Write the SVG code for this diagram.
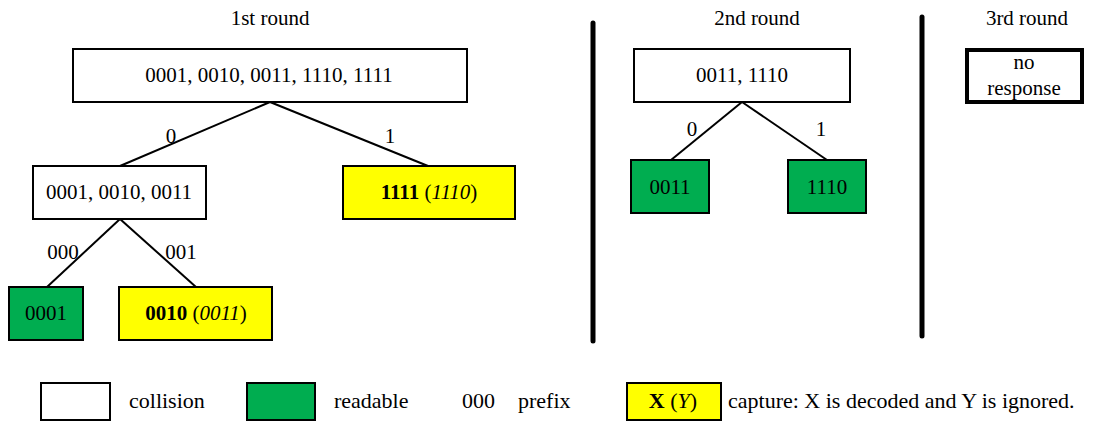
<svg xmlns="http://www.w3.org/2000/svg" width="1096" height="421" viewBox="0 0 1096 421">
<rect width="1096" height="421" fill="#fff"/>
<g id="titles">
<text x="270" y="25" text-anchor="middle" font-family="Liberation Serif" font-size="21">1st round</text>
<text x="757" y="25" text-anchor="middle" font-family="Liberation Serif" font-size="21">2nd round</text>
<text x="1027" y="25" text-anchor="middle" font-family="Liberation Serif" font-size="21">3rd round</text>
</g>
<g id="separators" stroke="#000" stroke-width="5" stroke-linecap="round">
<line x1="593" y1="23" x2="593" y2="341"/>
<line x1="922" y1="17" x2="922" y2="336"/>
</g>
<g id="connectors">
<g stroke="#000" stroke-width="2" fill="none">
<line x1="270" y1="102" x2="120" y2="166"/>
<line x1="270" y1="102" x2="428" y2="166"/>
<line x1="120" y1="219" x2="47" y2="287"/>
<line x1="120" y1="219" x2="196" y2="287"/>
<line x1="742" y1="102" x2="671" y2="160"/>
<line x1="742" y1="102" x2="827" y2="160"/>
</g>
<text x="171" y="143" text-anchor="middle" font-family="Liberation Serif" font-size="21">0</text>
<text x="390" y="143" text-anchor="middle" font-family="Liberation Serif" font-size="21">1</text>
<text x="63" y="259" text-anchor="middle" font-family="Liberation Serif" font-size="21">000</text>
<text x="181" y="259" text-anchor="middle" font-family="Liberation Serif" font-size="21">001</text>
<text x="692" y="136" text-anchor="middle" font-family="Liberation Serif" font-size="21">0</text>
<text x="821" y="136" text-anchor="middle" font-family="Liberation Serif" font-size="21">1</text>
</g>
<g id="n1">
<rect x="73" y="49" width="394" height="53" fill="#fff" stroke="#000" stroke-width="2"/>
<text x="269" y="82" text-anchor="middle" font-family="Liberation Serif" font-size="21">0001, 0010, 0011, 1110, 1111</text>
</g>
<g id="n2">
<rect x="33" y="166" width="173" height="53" fill="#fff" stroke="#000" stroke-width="2"/>
<text x="119" y="199" text-anchor="middle" font-family="Liberation Serif" font-size="21">0001, 0010, 0011</text>
</g>
<g id="n3">
<rect x="343" y="166" width="172" height="53" fill="#ffff00" stroke="#000" stroke-width="2"/>
<text x="429" y="199" text-anchor="middle" font-family="Liberation Serif" font-size="21"><tspan font-weight="bold">1111</tspan> (<tspan font-style="italic">1110</tspan>)</text>
</g>
<g id="n4">
<rect x="9" y="287" width="74" height="53" fill="#00ad50" stroke="#000" stroke-width="2"/>
<text x="46" y="320" text-anchor="middle" font-family="Liberation Serif" font-size="21">0001</text>
</g>
<g id="n5">
<rect x="119" y="287" width="153" height="53" fill="#ffff00" stroke="#000" stroke-width="2"/>
<text x="196" y="320" text-anchor="middle" font-family="Liberation Serif" font-size="21"><tspan font-weight="bold">0010</tspan> (<tspan font-style="italic">0011</tspan>)</text>
</g>
<g id="n6">
<rect x="634" y="49" width="216" height="53" fill="#fff" stroke="#000" stroke-width="2"/>
<text x="742" y="82" text-anchor="middle" font-family="Liberation Serif" font-size="21">0011, 1110</text>
</g>
<g id="n7">
<rect x="631" y="160" width="78" height="53" fill="#00ad50" stroke="#000" stroke-width="2"/>
<text x="670" y="194" text-anchor="middle" font-family="Liberation Serif" font-size="21">0011</text>
</g>
<g id="n8">
<rect x="788" y="160" width="78" height="53" fill="#00ad50" stroke="#000" stroke-width="2"/>
<text x="827" y="194" text-anchor="middle" font-family="Liberation Serif" font-size="21">1110</text>
</g>
<g id="n9">
<rect x="967" y="50" width="115" height="52" fill="#fff" stroke="#000" stroke-width="4"/>
<text x="1024" y="69" text-anchor="middle" font-family="Liberation Serif" font-size="21">no</text>
<text x="1024" y="95" text-anchor="middle" font-family="Liberation Serif" font-size="21">response</text>
</g>
<g id="legend">
<rect x="41" y="383" width="69" height="37" fill="#fff" stroke="#000" stroke-width="2"/>
<text x="129" y="408" font-family="Liberation Serif" font-size="22">collision</text>
<rect x="247" y="383" width="68" height="37" fill="#00ad50" stroke="#000" stroke-width="2"/>
<text x="334" y="408" font-family="Liberation Serif" font-size="22">readable</text>
<text x="462" y="408" font-family="Liberation Serif" font-size="22">000</text>
<text x="518" y="408" font-family="Liberation Serif" font-size="22">prefix</text>
<rect x="627" y="383" width="94" height="37" fill="#ffff00" stroke="#000" stroke-width="2"/>
<text x="673" y="408" text-anchor="middle" font-family="Liberation Serif" font-size="22"><tspan font-weight="bold">X</tspan> (<tspan font-style="italic">Y</tspan>)</text>
<text x="728" y="408" font-family="Liberation Serif" font-size="22">capture: X is decoded and Y is ignored.</text>
</g>
</svg>
